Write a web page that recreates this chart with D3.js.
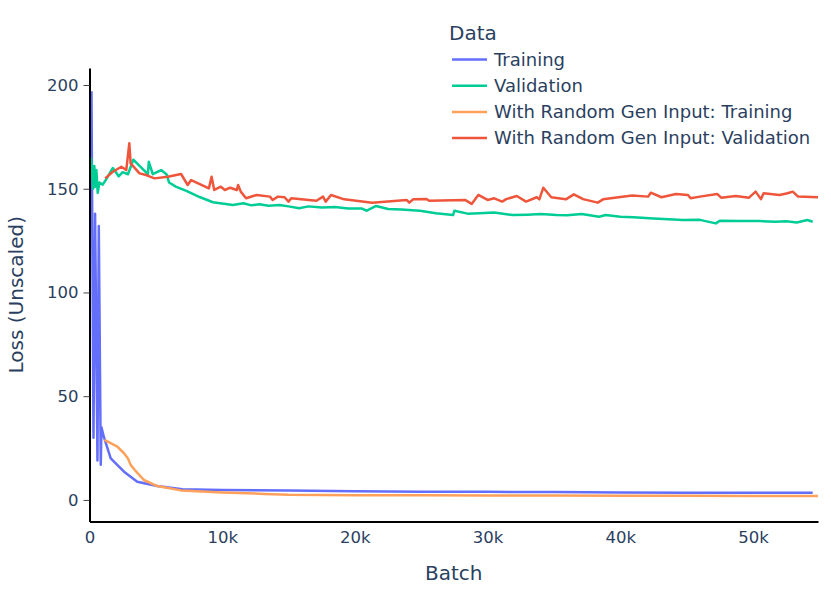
<!DOCTYPE html>
<html>
<head>
<meta charset="utf-8">
<script src="https://cdn.jsdelivr.net/npm/d3@7"></script>
<style>
  body { margin: 0; background: #fff; }
  text { font-family: "DejaVu Sans", sans-serif; fill: #2a3f5f; }
</style>
</head>
<body>
<svg id="chart"></svg>
<script>
var width = 831
var height = 593

// batch (thousands) and loss values
var trainX = [0.15, 0.3, 0.42, 0.6, 0.7, 0.85, 0.9, 1.1, 1.6, 2.6, 3.6, 5.1, 7, 10, 15, 20, 25, 30, 35, 40, 45, 50, 54.5]
var trainY = [197, 30, 138, 19, 132, 17, 35, 30, 20, 13.6, 8.8, 6.7, 5.2, 4.8, 4.5, 4.2, 4.0, 3.9, 3.8, 3.6, 3.5, 3.4, 3.4]

var validX = [0.12, 0.2, 0.28, 0.36, 0.45, 0.52, 0.62, 0.75, 1.0, 1.3, 1.76, 2.2, 2.5, 2.9, 3.3, 3.77, 4.4, 4.47, 4.77, 5.4, 5.8, 6.0, 6.5, 7.3, 8.3, 9.3, 10.8, 11.6, 12.2, 12.8, 13.5, 14.3, 15.0, 15.8, 16.5, 17.5, 18.5, 19.5, 20.5, 20.9, 21.6, 22.5, 23.5, 24.9, 26.1, 27.4, 27.5, 28.5, 29.4, 30.5, 31.9, 33.0, 34.0, 35.2, 36.0, 37.1, 38.4, 38.9, 40.0, 41.0, 42.5, 44.0, 44.7, 46.0, 47.2, 47.5, 49.0, 50.5, 51.7, 52.5, 53.3, 54.1, 54.5]
var validY = [165, 157, 150, 161, 151, 159, 148, 153, 152, 155, 160, 156, 158, 157, 164, 161, 157, 163, 157, 159, 157, 153, 151, 149, 146, 143.5, 142.2, 143, 142, 142.5, 141.8, 142.2, 141.5, 140.6, 141.5, 141, 141.2, 140.5, 140.5, 139.4, 141.7, 140.2, 140, 139.4, 138.2, 137.3, 139.4, 138, 138.2, 138.5, 137.3, 137.5, 137.8, 137.3, 137.2, 137.8, 136.5, 137.3, 136.5, 136.2, 135.6, 135.2, 134.9, 135, 133.3, 134.6, 134.5, 134.4, 134.1, 134.3, 133.7, 134.9, 134.1]

var randTrainX = [1.13, 2.1, 2.6, 2.9, 3.1, 3.4, 4.1, 5.1, 6.9, 10, 13.2, 15, 20, 25, 30, 35, 40, 45, 50, 54.9]
var randTrainY = [28.9, 25.7, 22.5, 20, 16.9, 14.5, 9.6, 6.7, 4.6, 3.6, 2.9, 2.5, 2.3, 2.2, 2.1, 2.1, 2.0, 2.0, 1.9, 1.9]

var randValidX = [1.18, 1.76, 2.4, 2.77, 3.0, 3.1, 3.77, 4.27, 4.9, 5.9, 6.9, 7.4, 7.66, 9.0, 9.2, 9.4, 9.9, 10.2, 10.6, 11.1, 11.2, 11.4, 11.8, 12.6, 13.6, 13.8, 14.2, 14.7, 15.0, 15.2, 17.1, 17.6, 17.8, 18.2, 19.2, 21.3, 23.9, 24.1, 24.4, 25.4, 25.6, 28.3, 28.8, 29.3, 30.0, 30.5, 31.1, 31.4, 32.2, 32.9, 33.7, 33.9, 34.2, 34.8, 35.9, 36.5, 37.2, 38.3, 38.7, 40.9, 42.1, 42.3, 43.1, 44.2, 45.1, 45.3, 46.0, 47.3, 47.6, 48.7, 49.7, 50.2, 50.6, 50.8, 52.0, 52.6, 53.0, 53.4, 54.9]
var randValidY = [155, 158.2, 160.6, 159, 171.9, 162.2, 157.4, 156.6, 155, 155.8, 157.1, 151.8, 154.2, 150.2, 155.8, 149.4, 151, 149.4, 150.5, 149.4, 151.8, 148.6, 145.4, 147, 146.2, 144.6, 146.2, 145.9, 143.8, 145.4, 144.2, 146.2, 143.8, 147, 144.9, 143.3, 144.6, 143.3, 144.9, 145, 144.2, 144.6, 142.7, 147, 144.6, 145.4, 143.8, 145, 146.5, 143.8, 145.9, 144.9, 150.5, 145.9, 144.9, 147.3, 145, 143.3, 144.9, 146.7, 146.2, 148.1, 145.9, 147.5, 147, 145.4, 146.2, 147.5, 145.7, 146.5, 145.7, 148.6, 145, 147.8, 147, 147.8, 148.6, 146.2, 145.9]

var seriesNames = ["Training", "Validation", "With Random Gen Input: Training", "With Random Gen Input: Validation"]
var seriesColors = ["#636efa", "#00cc96", "#FFA15A", "#EF553B"]

var xTicks = [0, 10, 20, 30, 40, 50]
var yTicks = [0, 50, 100, 150, 200]

var series = [
    d3.zip(trainX, trainY),
    d3.zip(validX, validY),
    d3.zip(randTrainX, randTrainY),
    d3.zip(randValidX, randValidY)
]

var plotLeft = 89.5
var plotRight = 818
var plotTop = 68
var plotBottom = 521.5

var xScale = d3.scaleLinear()
    .domain([0, 54.9])
    .range([plotLeft, plotRight])

var yScale = d3.scaleLinear()
    .domain([-10.4, 208.2])
    .range([plotBottom, plotTop])

var svg = d3.select("#chart")
    .attr("width", width)
    .attr("height", height)

svg.append("defs")
    .append("clipPath")
    .attr("id", "plot-clip")
    .append("rect")
    .attr("x", plotLeft)
    .attr("y", plotTop)
    .attr("width", plotRight - plotLeft)
    .attr("height", plotBottom - plotTop)

var line = d3.line()
    .x(d => xScale(d[0]))
    .y(d => yScale(d[1]))

svg.append("g")
    .attr("clip-path", "url(#plot-clip)")
    .selectAll("path")
    .data(series)
    .enter()
    .append("path")
    .attr("d", line)
    .attr("fill", "none")
    .attr("stroke", (d, i) => seriesColors[i])
    .attr("stroke-width", 2.5)
    .attr("stroke-linejoin", "round")

// x axis, no tick marks in the original
var xAxis = d3.axisBottom(xScale)
    .tickValues(xTicks)
    .tickFormat(d => d === 0 ? "0" : d + "k")
    .tickSize(0)
    .tickPadding(10)

var gx = svg.append("g")
    .attr("transform", `translate(0, ${plotBottom})`)
    .call(xAxis)
gx.select(".domain").attr("stroke", "#000").attr("stroke-width", 2)
gx.selectAll("text").attr("font-size", 16.5).attr("font-family", "DejaVu Sans").attr("fill", "#2a3f5f")

var yAxis = d3.axisLeft(yScale)
    .tickValues(yTicks)
    .tickSizeInner(6)
    .tickSizeOuter(0)
    .tickPadding(5)

var gy = svg.append("g")
    .attr("transform", `translate(${plotLeft}, 0)`)
    .call(yAxis)
gy.select(".domain").attr("stroke", "#000").attr("stroke-width", 2)
gy.selectAll(".tick line").attr("stroke", "#444")
gy.selectAll("text").attr("font-size", 16.5).attr("font-family", "DejaVu Sans").attr("fill", "#2a3f5f")

svg.append("text")
    .attr("x", (plotLeft + plotRight) / 2)
    .attr("y", 580)
    .attr("font-size", 20)
    .style("text-anchor", "middle")
    .text("Batch")

svg.append("text")
    .attr("transform", "rotate(-90)")
    .attr("x", -(plotTop + plotBottom) / 2)
    .attr("y", 23)
    .attr("font-size", 20)
    .style("text-anchor", "middle")
    .text("Loss (Unscaled)")

// legend
var legend = svg.append("g")

legend.append("text")
    .attr("x", 449)
    .attr("y", 39.5)
    .attr("font-size", 20)
    .text("Data")

var items = legend.selectAll(".item")
    .data(seriesNames)
    .enter()
    .append("g")
    .attr("class", "item")
    .attr("transform", (d, i) => `translate(0, ${59.5 + i * 26.2})`)

items.append("line")
    .attr("x1", 452)
    .attr("x2", 487)
    .attr("stroke", (d, i) => seriesColors[i])
    .attr("stroke-width", 2.5)

items.append("text")
    .attr("x", 494)
    .attr("dy", "0.35em")
    .attr("font-size", 18)
    .text(d => d)
</script>
</body>
</html>
